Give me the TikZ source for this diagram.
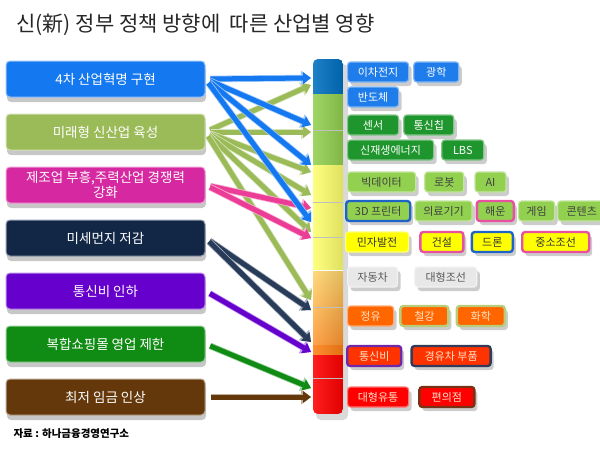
\documentclass[tikz,border=0pt]{standalone}
\usepackage{fontspec}
\setmainfont{Noto Sans CJK KR}
\usepackage{tikz}
\usetikzlibrary{arrows.meta, positioning, calc, shadows}
\definecolor{goalblue}{RGB}{20,120,240}
\definecolor{goalgreen}{RGB}{155,187,89}
\definecolor{goalpink}{RGB}{214,40,160}
\definecolor{goalnavy}{RGB}{18,38,70}
\definecolor{goalpurple}{RGB}{102,0,204}
\definecolor{goaldkgreen}{RGB}{16,140,20}
\definecolor{goalbrown}{RGB}{100,56,10}
\definecolor{arrpink}{RGB}{235,60,150}
\definecolor{arrnavy}{RGB}{40,60,90}
\definecolor{tagblue}{RGB}{30,125,235}
\definecolor{tagdkgreen}{RGB}{30,150,45}
\definecolor{taglgreen}{RGB}{146,208,80}
\definecolor{tagyellow}{RGB}{255,255,0}
\definecolor{taggrey}{RGB}{232,232,232}
\definecolor{tagorange}{RGB}{255,102,0}
\definecolor{tagredor}{RGB}{255,51,0}
\definecolor{tagred}{RGB}{255,0,0}
\definecolor{cream}{RGB}{255,228,200}
\definecolor{edgeblue}{RGB}{30,100,200}
\definecolor{edgepink}{RGB}{232,80,160}
\definecolor{edgelgreen}{RGB}{185,205,120}
\definecolor{edgepurple}{RGB}{112,40,170}
\definecolor{edgenavy}{RGB}{50,60,90}
\definecolor{edgebrown}{RGB}{120,50,20}
\definecolor{barblue}{RGB}{0,112,192}
\definecolor{bargreen}{RGB}{146,208,80}
\definecolor{baryellow}{RGB}{255,255,110}
\definecolor{barorangetop}{RGB}{255,214,110}
\definecolor{barorangebot}{RGB}{255,150,50}
\definecolor{barorangeband}{RGB}{255,128,20}

\begin{document}
\begin{tikzpicture}[
    x=1pt, y=-1pt,
    goal/.style={draw=#1!45!white, fill=#1, line width=1pt, rounded corners=4pt,
        minimum width=199pt, minimum height=36pt, inner ysep=2pt, align=center,
        text=white, font=\fontsize{13.5}{15.5}\selectfont,
        drop shadow={shadow xshift=1pt, shadow yshift=-5pt, opacity=0.22, fill=black}},
    tag/.style={draw=#1!55!white, fill=#1, line width=1.2pt, rounded corners=3pt,
        minimum height=20pt, inner sep=2pt, font=\fontsize{11}{13}\selectfont,
        drop shadow={shadow xshift=3pt, shadow yshift=-4pt, opacity=0.2, fill=black}},
    tagB/.style={tag=tagblue, text=white},
    tagG/.style={tag=tagdkgreen, text=white},
    tagL/.style={tag=taglgreen, text=black!75},
    tagY/.style={tag=tagyellow, text=black!80},
    tagW/.style={tag=taggrey, text=black!65},
    tagO/.style={tag=tagorange, text=cream},
    tagRO/.style={tag=tagredor, text=cream},
    tagR/.style={tag=tagred, text=cream},
    rim/.style={draw=#1, line width=2.4pt},
    link/.style={draw=#1, line width=5pt, shorten <=5pt,
        -{Triangle[length=8pt, width=12pt, line width=0pt]},
        preaction={draw=#1!40!white, line width=6.6pt, shorten <=5pt,
            -{Triangle[length=10pt, width=15pt, line width=0pt]}}},
]
    \useasboundingbox (0,0) rectangle (600,450);

    \node[anchor=west, font=\fontsize{21}{24}\selectfont, text=black!85] (title) at (13,25)
        {신(新) 정부 정책 방향에\ \ 따른 산업별 영향};

    % policy boxes
    \node[goal=goalblue] (g1) at (105.5,79) {4차 산업혁명 구현};
    \node[goal=goalgreen, below=16pt of g1] (g2) {미래형 신산업 육성};
    \node[goal=goalpink, below=16pt of g2] (g3) {제조업 부흥,주력산업 경쟁력\\강화};
    \node[goal=goalnavy, below=16pt of g3] (g4) {미세먼지 저감};
    \node[goal=goalpurple, below=16pt of g4] (g5) {통신비 인하};
    \node[goal=goaldkgreen, below=16pt of g5] (g6) {복합쇼핑몰 영업 제한};
    \node[goal=goalbrown, below=16pt of g6] (g7) {최저 임금 인상};

    \node[anchor=west, font=\bfseries\fontsize{10.5}{12}\selectfont] (src) at (10,434)
        {자료 : 하나금융경영연구소};

    % impact bar
    \fill[black, opacity=0.15, rounded corners=5pt] (316,64) rectangle (348,420);
    \begin{scope}
        \clip[rounded corners=5pt] (313,59) rectangle (343,414);
        \fill[barblue] (313,59) rectangle (343,94);
        \fill[bargreen] (313,94) rectangle (343,165);
        \fill[baryellow] (313,165) rectangle (343,270);
        \shade[top color=barorangetop, bottom color=barorangebot] (313,270) rectangle (343,345);
        \fill[barorangeband] (313,345) rectangle (343,355);
        \fill[tagred] (313,355) rectangle (343,414);
        \shade[left color=white, right color=black, opacity=0.12] (313,59) rectangle (343,414);
        \foreach \y in {130,202,237,307,378}
            \draw[black!25, line width=0.6pt] (313,\y) -- (343,\y);
        \draw[white!60, line width=1pt] (313,270) -- (343,270);
    \end{scope}

    % entry points on the bar
    \foreach \n/\y in {b1/78, b2/125, b3/165, b4/222,
                       l1/85, l2/132, l3/172, l4/195, l5/232, l6/300,
                       p1/208, p2/238, n1/310, n2/342, v1/352, d1/388, r1/397}
        \coordinate (in-\n) at (311,\y);

    % arrows
    \foreach \n in {l1,l2,l3,l4,l5,l6}
        \draw[link=goalgreen] (g2.east) -- (in-\n);
    \foreach \n in {p1,p2}
        \draw[link=arrpink] (g3.east) -- (in-\n);
    \foreach \n in {b1,b2,b3,b4}
        \draw[link=goalblue] (g1.east) -- (in-\n);
    \foreach \n in {n1,n2}
        \draw[link=arrnavy] (g4.east) -- (in-\n);
    \draw[link=goalpurple] (g5.east) -- (in-v1);
    \draw[link=goaldkgreen] (g6.east) -- (in-d1);
    \draw[link=goalbrown] (g7.east) -- (in-r1);

    % industries
    \node[tagB, minimum width=61pt, anchor=west] (t1a) at (347,72) {이차전지};
    \node[tagB, minimum width=45pt, right=4pt of t1a] (t1b) {광학};

    \node[tagB, minimum width=51pt, anchor=west] (t2a) at (347,97) {반도체};

    \node[tagG, minimum width=51pt, anchor=west] (t3a) at (347,125) {센서};
    \node[tagG, minimum width=50pt, right=4pt of t3a] (t3b) {통신칩};

    \node[tagG, minimum width=86pt, anchor=west] (t4a) at (347,150) {신재생에너지};
    \node[tagG, minimum width=42pt, right=7pt of t4a] (t4b) {LBS};

    \node[tagL, minimum width=68pt, anchor=west] (t5a) at (347,182) {빅데이터};
    \node[tagL, minimum width=39pt, right=8pt of t5a] (t5b) {로봇};
    \node[tagL, minimum width=31pt, right=10pt of t5b] (t5c) {AI};

    \node[tagL, rim=edgeblue, minimum width=64pt, anchor=west] (t6a) at (345,211) {3D 프린터};
    \node[tagL, minimum width=57pt, right=3pt of t6a] (t6b) {의료기기};
    \node[tagL, rim=edgepink, minimum width=37pt, right=3pt of t6b] (t6c) {해운};
    \node[tagL, minimum width=36pt, right=3pt of t6c] (t6d) {게임};
    \node[tagL, minimum width=48pt, right=2pt of t6d] (t6e) {콘텐츠};

    \node[tagY, minimum width=63pt, anchor=west] (t7a) at (345,242) {민자발전};
    \node[tagY, rim=edgepink, minimum width=43pt, right=10pt of t7a] (t7b) {건설};
    \node[tagY, rim=edgeblue, minimum width=41pt, right=6pt of t7b] (t7c) {드론};
    \node[tagY, rim=edgepink, minimum width=67pt, right=7pt of t7c] (t7d) {중소조선};

    \node[tagW, minimum width=50pt, anchor=west] (t8a) at (347,277) {자동차};
    \node[tagW, minimum width=62pt, right=16pt of t8a] (t8b) {대형조선};

    \node[tagO, minimum width=46pt, anchor=west] (t9a) at (347,316) {정유};
    \node[tagO, rim=edgelgreen, minimum width=48pt, right=5pt of t9a] (t9b) {철강};
    \node[tagO, rim=edgelgreen, minimum width=48pt, right=6pt of t9b] (t9c) {화학};

    \node[tagRO, rim=edgepurple, minimum width=54pt, anchor=west] (t10a) at (346,356) {통신비};
    \node[tagRO, rim=edgenavy, minimum width=79pt, right=8pt of t10a] (t10b) {경유차 부품};

    \node[tagR, minimum width=61pt, anchor=west] (t11a) at (347,397) {대형유통};
    \node[tagR, rim=edgebrown, minimum width=55pt, right=9pt of t11a] (t11b) {편의점};
\end{tikzpicture}
\end{document}
